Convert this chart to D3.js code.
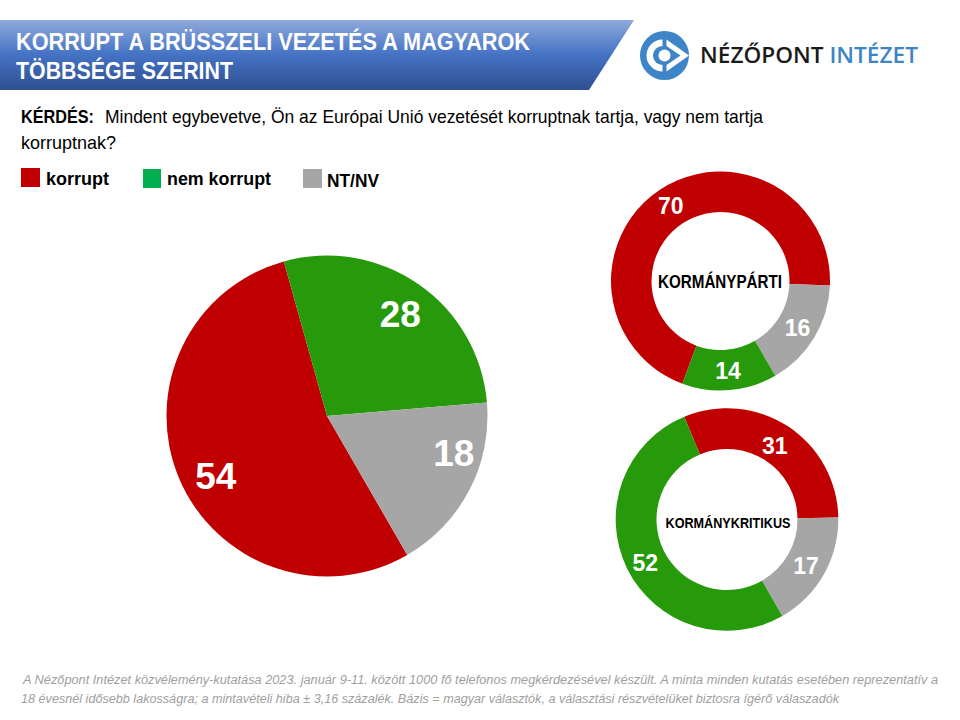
<!DOCTYPE html>
<html>
<head>
<meta charset="utf-8">
<script src="https://cdn.jsdelivr.net/npm/d3@7"></script>
<style>
  html, body { margin: 0; padding: 0; background: #fff; }
  svg { display: block; }
  text { font-family: "Liberation Sans", Arial, sans-serif; }
</style>
</head>
<body>
<svg id="chart" width="960" height="720"></svg>
<script>
const titleLines = ["KORRUPT A BRÜSSZELI VEZETÉS A MAGYAROK", "TÖBBSÉGE SZERINT"];
const questionLabel = "KÉRDÉS:";
const questionLines = ["Mindent egybevetve, Ön az Európai Unió vezetését korruptnak tartja, vagy nem tartja", "korruptnak?"];
const footnoteLines = [
  "A Nézőpont Intézet közvélemény-kutatása 2023. január 9-11. között 1000 fő telefonos megkérdezésével készült. A minta minden kutatás esetében reprezentatív a",
  "18 évesnél idősebb lakosságra; a mintavételi hiba ± 3,16 százalék. Bázis = magyar választók, a választási részvételüket biztosra ígérő válaszadók"
];

const legendLabels = ["korrupt", "nem korrupt", "NT/NV"];
const legendColors = ["#c00000", "#00b050", "#a6a6a6"];

const mainCategories = ["korrupt", "nem korrupt", "NT/NV"];
const mainValues = [54, 28, 18];
const proGovCategories = ["korrupt", "NT/NV", "nem korrupt"];
const proGovValues = [70, 16, 14];
const criticCategories = ["korrupt", "NT/NV", "nem korrupt"];
const criticValues = [31, 17, 52];

const sliceColor = d3.scaleOrdinal()
  .domain(["korrupt", "nem korrupt", "NT/NV"])
  .range(["#c00000", "#279a0b", "#a6a6a6"]);

const svg = d3.select("#chart");

// header band
const grad = svg.append("defs").append("linearGradient")
  .attr("id", "band").attr("x1", 0).attr("x2", 0).attr("y1", 0).attr("y2", 1);
grad.append("stop").attr("offset", "0%").attr("stop-color", "#8faadc");
grad.append("stop").attr("offset", "50%").attr("stop-color", "#4472c4");
grad.append("stop").attr("offset", "100%").attr("stop-color", "#2f5090");

svg.append("path")
  .attr("d", "M0,20 L634,20 L589,90 L0,90 Z")
  .attr("fill", "url(#band)");

const titleWidths = [514, 217];
svg.append("g").selectAll("text")
  .data(titleLines)
  .join("text")
  .attr("x", 16)
  .attr("y", (d, i) => 50 + i * 29)
  .attr("font-size", 23.5)
  .attr("font-weight", "bold")
  .attr("fill", "#fff")
  .attr("textLength", (d, i) => titleWidths[i])
  .attr("lengthAdjust", "spacingAndGlyphs")
  .text((d) => d);

// question
svg.append("text")
  .attr("x", 21).attr("y", 123)
  .attr("font-size", 18.5).attr("font-weight", "bold")
  .attr("textLength", 73).attr("lengthAdjust", "spacingAndGlyphs")
  .text(questionLabel);
svg.append("text")
  .attr("x", 105).attr("y", 123)
  .attr("font-size", 18.5)
  .attr("textLength", 658).attr("lengthAdjust", "spacingAndGlyphs")
  .text(questionLines[0]);
svg.append("text")
  .attr("x", 21).attr("y", 149)
  .attr("font-size", 18.5)
  .attr("textLength", 95).attr("lengthAdjust", "spacingAndGlyphs")
  .text(questionLines[1]);

// legend
const swatchX = [21, 143, 303];
const swatchW = [19, 18, 19];
const swatchY = [168, 169, 169];
const labelX = [46, 167, 327];
const labelY = [185, 185, 187];
const labelW = [63, 104, 52];
const legend = svg.append("g");
legend.selectAll("rect")
  .data(legendLabels)
  .join("rect")
  .attr("x", (d, i) => swatchX[i])
  .attr("y", (d, i) => swatchY[i])
  .attr("width", (d, i) => swatchW[i])
  .attr("height", 19)
  .attr("fill", (d, i) => legendColors[i]);
legend.selectAll("text")
  .data(legendLabels)
  .join("text")
  .attr("x", (d, i) => labelX[i])
  .attr("y", (d, i) => labelY[i])
  .attr("font-size", 18.5)
  .attr("font-weight", "bold")
  .attr("textLength", (d, i) => labelW[i])
  .attr("lengthAdjust", "spacingAndGlyphs")
  .text((d) => d);

// draws one pie or donut from its categories and values
function drawPie(categories, values, opts) {
  const pie = d3.pie()
    .sort(null)
    .startAngle(opts.start * Math.PI / 180)
    .endAngle((opts.start + 360) * Math.PI / 180);
  const arc = d3.arc().innerRadius(opts.inner).outerRadius(opts.outer);
  const labelArc = d3.arc().innerRadius(opts.labelR).outerRadius(opts.labelR);
  const g = svg.append("g").attr("transform", `translate(${opts.cx}, ${opts.cy})`);
  const arcs = pie(values);
  g.selectAll("path")
    .data(arcs)
    .join("path")
    .attr("d", arc)
    .attr("fill", (d, i) => sliceColor(categories[i]));
  g.selectAll("text")
    .data(arcs)
    .join("text")
    .attr("transform", (d, i) => {
      const [x, y] = labelArc.centroid(d);
      const [dx, dy] = opts.nudge[i];
      return `translate(${x + dx}, ${y + dy})`;
    })
    .attr("text-anchor", "middle")
    .attr("dy", "0.36em")
    .attr("font-size", opts.fontSize)
    .attr("font-weight", "bold")
    .attr("fill", "#fff")
    .text((d) => d.value);
  return g;
}

drawPie(mainCategories, mainValues, {
  cx: 327, cy: 416, inner: 0, outer: 160.5, start: 150, labelR: 125, fontSize: 37,
  nudge: [[4, 11], [2, 0], [16, -21]]
});

drawPie(proGovCategories, proGovValues, {
  cx: 720.5, cy: 281, inner: 69, outer: 109.5, start: 200.4, labelR: 90, fontSize: 23,
  nudge: [[0, 0], [0, 0], [0, 0]]
})
  .append("text")
  .attr("text-anchor", "middle").attr("x", -0.5).attr("y", 7)
  .attr("font-size", 19).attr("font-weight", "bold")
  .attr("textLength", 124).attr("lengthAdjust", "spacingAndGlyphs")
  .text("KORMÁNYPÁRTI");

drawPie(criticCategories, criticValues, {
  cx: 727, cy: 519.5, inner: 70.5, outer: 111.3, start: -22.6, labelR: 91, fontSize: 23,
  nudge: [[-2, 2], [0, 1], [0, 3]]
})
  .append("text")
  .attr("text-anchor", "middle").attr("x", 1).attr("y", 8.5)
  .attr("font-size", 15.5).attr("font-weight", "bold")
  .attr("textLength", 125).attr("lengthAdjust", "spacingAndGlyphs")
  .text("KORMÁNYKRITIKUS");

// logo
const logoBlue = "#3d85c6";
const logo = svg.append("g").attr("transform", "translate(664.5, 55.5)");
logo.append("circle").attr("r", 24.5).attr("fill", logoBlue);
logo.append("path")
  .attr("d", "M-2,-16 A16,16 0 1,0 -2,16 L2,16 L24.5,0 L2,-16 Z")
  .attr("fill", "#fff");
logo.append("path")
  .attr("d", "M-2,-9.5 A9.5,9.5 0 1,0 -2,9.5 L2,9.5 L16,0 L2,-9.5 Z")
  .attr("fill", logoBlue);
logo.append("circle").attr("r", 6).attr("fill", "#fff");
logo.append("rect").attr("x", -2).attr("y", -17).attr("width", 4).attr("height", 8).attr("fill", logoBlue);
logo.append("rect").attr("x", -2).attr("y", 9).attr("width", 4).attr("height", 8).attr("fill", logoBlue);
svg.append("text")
  .attr("x", 700).attr("y", 63)
  .attr("font-size", 21).attr("font-weight", "600")
  .attr("textLength", 218).attr("lengthAdjust", "spacingAndGlyphs")
  .call((t) => {
    t.append("tspan").attr("fill", "#1a1a1a").style("font-family", "'Open Sans'").text("NÉZŐPONT ");
    t.append("tspan").attr("fill", logoBlue).style("font-family", "'Open Sans'").text("INTÉZET");
  });

// footnote
const footnoteX = [23, 21];
const footnoteW = [915, 818];
svg.append("g").selectAll("text")
  .data(footnoteLines)
  .join("text")
  .attr("x", (d, i) => footnoteX[i])
  .attr("y", (d, i) => 684 + i * 19)
  .attr("font-size", 12.5)
  .attr("font-style", "italic")
  .attr("fill", "#a0a0a0")
  .attr("textLength", (d, i) => footnoteW[i])
  .attr("lengthAdjust", "spacingAndGlyphs")
  .text((d) => d);
</script>
</body>
</html>
